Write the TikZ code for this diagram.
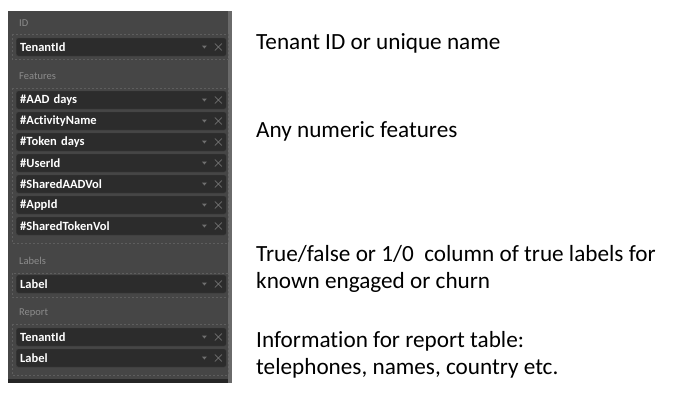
\documentclass[tikz,border=0pt]{standalone}
\usepackage{fontspec}
\setmainfont{Carlito}[Ligatures=NoCommon]
\usetikzlibrary{positioning}
\definecolor{panelgray}{HTML}{464646}
\definecolor{edgegray}{HTML}{6A6A6A}
\definecolor{rowgray}{HTML}{2C2C2C}
\definecolor{headgray}{HTML}{8C8C8C}
\definecolor{zonegray}{HTML}{5E5E5E}
\definecolor{icongray}{HTML}{707070}

\begin{document}
\begin{tikzpicture}[x=1pt,y=-1pt,
  fieldbox/.style={draw=black!75,fill=rowgray,rounded corners=2pt,anchor=west,text width=202pt,inner xsep=4pt,inner ysep=0pt,minimum height=18pt,align=left,text=white,font=\fontsize{12.5}{13}\selectfont\bfseries},
  header/.style={anchor=west,inner sep=0pt,text=headgray,font=\fontsize{10.5}{12}\selectfont},
  zone/.style={draw=zonegray,dash pattern=on 2pt off 2pt},
  note/.style={anchor=base west,inner sep=0pt,align=left,font=\fontsize{23.2}{26.3}\selectfont}]
\useasboundingbox (0,0) rectangle (691,402);
\fill[panelgray] (8,11) rectangle (232,383);
\fill[edgegray] (228,11) rectangle (232,383);
\fill[black!85] (8,379) rectangle (228,383);
\draw[zone] (12,34) rectangle (228,59);
\draw[zone] (12,88) rectangle (228,243);
\draw[zone] (12,273) rectangle (228,297);
\draw[zone] (12,324) rectangle (228,375);
\node[header] (idhead) at (19,23) {ID};
\node[header] (feathead) at (19,76) {Features};
\node[header] (labelhead) at (19,261) {Labels};
\node[header] (reporthead) at (19,313) {Report};
\foreach \y/\name/\txt in {47/tid/TenantId,100/aad/\#AAD days,121/act/\#ActivityName,142/tok/\#Token days,
  163/uid/\#UserId,184/saad/\#SharedAADVol,205/app/\#AppId,226/stok/\#SharedTokenVol,
  284/lab/Label,337/rtid/TenantId,358/rlab/Label}{
  \node[fieldbox] (\name) at (16,\y) {\txt};
  \fill[icongray] (\name.east) ++(-24.5,-1.5) -- ++(5,0) -- ++(-2.5,3) -- cycle;
  \draw[icongray,line width=0.6pt] (\name.east) ++(-11.5,-3.5) -- ++(7,7) ++(0,-7) -- ++(-7,7);
}
\node[note] (idnote) at (256,49) {Tenant ID or unique name};
\node[note] (featnote) at (256,137) {Any numeric features};
\node[note] (labelnote) at (256,288) {True/false or 1/0\ \ column of true labels for\\known engaged or churn};
\node[note] (reportnote) at (256,374) {Information for report table:\\telephones, names, country etc.};
\end{tikzpicture}
\end{document}
